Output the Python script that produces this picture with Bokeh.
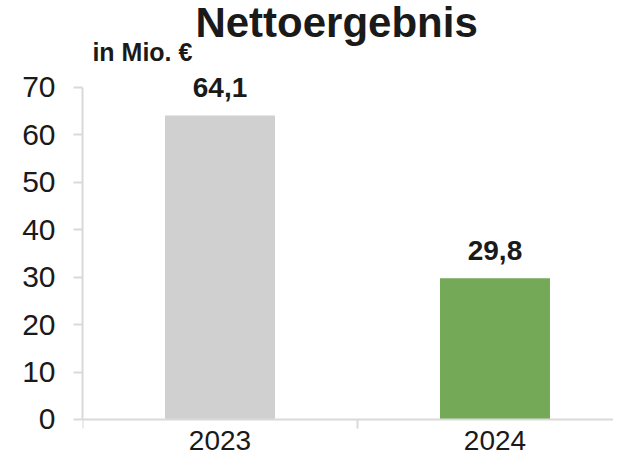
from bokeh.plotting import figure
from bokeh.models import ColumnDataSource, LabelSet, Label, FixedTicker, LinearAxis, Range1d
from bokeh.core.properties import value
from bokeh.embed import file_html
from bokeh.resources import INLINE

# ---- data ----
years = ["2023", "2024"]
values = [64.1, 29.8]
value_labels = ["64,1", "29,8"]
bar_colors = ["#d0d0d0", "#74a958"]
y_ticks = [0, 10, 20, 30, 40, 50, 60, 70]
title_text = "Nettoergebnis"
unit_text = "in Mio. €"

FONT = "Liberation Sans"
TEXT = "#1a1a1a"
AXIS = "#d9d9d9"

x_pos = [i + 0.5 for i in range(len(years))]
bounds = [float(i) for i in range(len(years) + 1)]

src = ColumnDataSource(dict(x=x_pos, top=values, label=value_labels, color=bar_colors))

p = figure(width=613, height=465, output_backend="svg", toolbar_location=None,
           x_range=Range1d(0, 1.931), y_range=Range1d(-9.70, 88.34),
           x_axis_type=None, y_axis_type=None,
           min_border_left=82, min_border_top=0, min_border_bottom=0, min_border_right=0)
p.outline_line_color = None
p.background_fill_color = "white"
p.border_fill_color = "white"

p.vbar(x="x", top="top", width=0.4, fill_color="color", line_color=None, source=src)

# y axis (line limited to 0..70)
yaxis = LinearAxis(ticker=FixedTicker(ticks=y_ticks), bounds=(0, 70))
yaxis.axis_line_color = AXIS
yaxis.axis_line_width = 2
yaxis.major_tick_line_color = AXIS
yaxis.major_tick_line_width = 2
yaxis.major_tick_out = 9
yaxis.major_tick_in = 0
yaxis.minor_tick_line_color = None
yaxis.major_label_standoff = 18
yaxis.major_label_text_font = FONT
yaxis.major_label_text_font_size = "30px"
yaxis.major_label_text_color = TEXT
p.add_layout(yaxis, "left")

# x axis at y=0: labels at category centers, tick marks at category boundaries
xaxis = LinearAxis(ticker=FixedTicker(ticks=x_pos, minor_ticks=bounds), fixed_location=0)
xaxis.major_label_overrides = {x: y for x, y in zip(x_pos, years)}
xaxis.axis_line_color = AXIS
xaxis.axis_line_width = 2
xaxis.major_tick_line_color = None
xaxis.major_tick_out = 9
xaxis.minor_tick_line_color = AXIS
xaxis.minor_tick_line_width = 2
xaxis.minor_tick_out = 9
xaxis.minor_tick_in = 0
xaxis.major_label_standoff = 3
xaxis.major_label_text_font = FONT
xaxis.major_label_text_font_size = "28px"
xaxis.major_label_text_color = TEXT
p.add_layout(xaxis, "below")

labels = LabelSet(x="x", y="top", text="label", source=src, text_align="center",
                  text_baseline="alphabetic", y_offset=18, text_font=value(FONT),
                  text_font_size=value("28px"), text_font_style=value("bold"),
                  text_color=value(TEXT))
p.add_layout(labels)

p.add_layout(Label(x=0.924, y=80.96, y_offset=13, text=title_text, text_align="center",
                   text_baseline="alphabetic", text_font=FONT, text_font_size="42px",
                   text_font_style="bold", text_color=TEXT))
p.add_layout(Label(x=0.036, y=75.27, y_offset=10, text=unit_text, text_align="left",
                   text_baseline="alphabetic", text_font=FONT, text_font_size="25px",
                   text_font_style="bold", text_color=TEXT))

open("out.html", "w").write(file_html(p, INLINE))
